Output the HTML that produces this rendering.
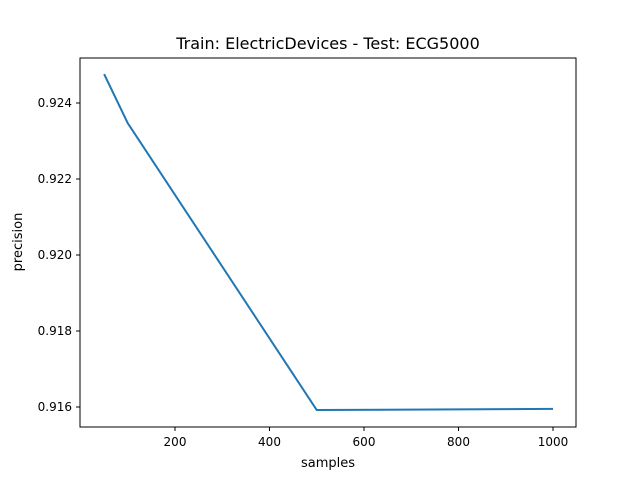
<!DOCTYPE html>
<html><head><meta charset="utf-8"><style>
body{margin:0;background:#fff;font-family:"Liberation Sans","DejaVu Sans",sans-serif}
svg text{font-family:"DejaVu Sans","Liberation Sans",sans-serif}
</style></head><body>
<svg id="chart" width="640" height="480" xmlns="http://www.w3.org/2000/svg">
<rect width="640" height="480" fill="#fff"/>
<text x="328" y="49" font-size="16" text-anchor="middle">Train: ElectricDevices - Test: ECG5000</text>
<g id="xt"></g><g id="yt"></g>
<path id="line" fill="none" stroke="#1f77b4" stroke-width="2" stroke-linejoin="round"/>
<rect x="80" y="58" width="496" height="369" fill="none" stroke="#000" stroke-width="1"/>
<text x="328" y="467" font-size="13" text-anchor="middle">samples</text>
<text x="22" y="242" font-size="13" text-anchor="middle" transform="rotate(-90 22 242)">precision</text>
</svg>
<script>
const samples=[50,100,500,1000];
const precision=[0.92476,0.92347,0.91592,0.91595];
const xTicks=[200,400,600,800,1000];
const yTicks=[0.916,0.918,0.920,0.922,0.924];
function sx(v){return 175+(v-200)*(553-175)/800;}
function sy(v){return 407-(v-0.916)*(407-103)/0.008;}
const ns="http://www.w3.org/2000/svg";
const xt=document.getElementById('xt'),yt=document.getElementById('yt');
xTicks.forEach(t=>{
 const l=document.createElementNS(ns,'line');
 l.setAttribute('x1',sx(t));l.setAttribute('x2',sx(t));l.setAttribute('y1',427);l.setAttribute('y2',431);l.setAttribute('stroke','#000');
 
 
 xt.appendChild(l);
 const tx=document.createElementNS(ns,'text');
 tx.setAttribute('x',sx(t));tx.setAttribute('y',446);tx.setAttribute('font-size','12');tx.setAttribute('text-anchor','middle');tx.textContent=t;
 
 
 xt.appendChild(tx);
});
yTicks.forEach(t=>{
 const l=document.createElementNS(ns,'line');
 l.setAttribute('x1',76);l.setAttribute('x2',80);l.setAttribute('y1',sy(t));l.setAttribute('y2',sy(t));l.setAttribute('stroke','#000');
 
 
 yt.appendChild(l);
 const tx=document.createElementNS(ns,'text');
 tx.setAttribute('x',72);tx.setAttribute('y',sy(t)+4);tx.setAttribute('font-size','12');tx.setAttribute('text-anchor','end');tx.textContent=t.toFixed(3);
 
 
 yt.appendChild(tx);
});
document.getElementById('line').setAttribute('d',samples.map((s,i)=>(i?'L':'M')+sx(s)+' '+sy(precision[i])).join(' '));
</script>
</body></html>
